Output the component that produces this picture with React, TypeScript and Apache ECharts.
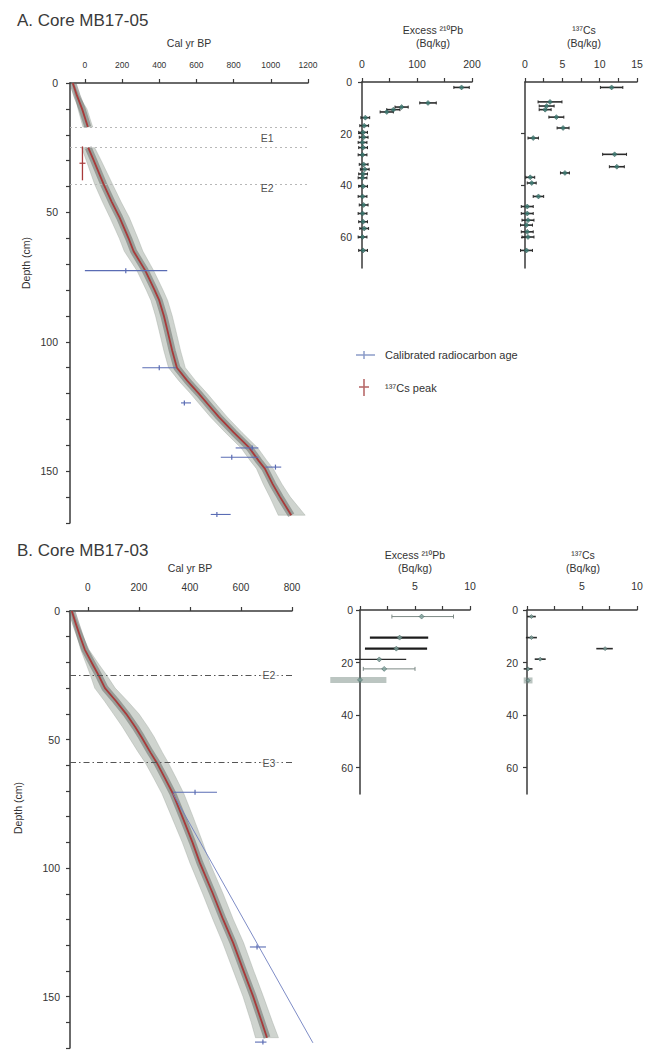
import React, { useEffect, useRef } from "react";
import * as echarts from "echarts";

// ---------------- Panel A : Core MB17-05 ----------------
// age-depth model, upper segment (above event layer E1)
const modelDepthA1 = [0, 5, 10, 17];
const modelMedA1 = [-65, -42, -15, 16];
const modelLoA1 = [-70, -52, -37, -10];
const modelHiA1 = [-60, -32, 11, 42];
// age-depth model, lower segment (below event layer E1)
const modelDepthA2 = [25, 30, 39, 46, 52, 60, 65, 72.5, 80, 84, 90, 95, 103.5, 110, 115, 120, 125, 129, 135, 141, 146, 149, 155, 160, 167];
const modelMedA2 = [18, 48, 100, 145, 187, 235, 262, 325, 375, 400, 425, 442, 470, 495, 550, 613, 672, 720, 800, 885, 935, 968, 1010, 1050, 1110];
const modelLoA2 = [-17, 8, 52, 95, 135, 185, 212, 280, 330, 355, 380, 397, 425, 450, 505, 568, 627, 675, 755, 840, 890, 923, 960, 995, 1040];
const modelHiA2 = [53, 88, 148, 195, 239, 285, 312, 370, 420, 445, 470, 487, 515, 540, 595, 658, 717, 765, 845, 930, 980, 1013, 1060, 1105, 1185];

// calibrated radiocarbon ages
const c14DepthA = [72.5, 110, 123.6, 141, 144.6, 148.4, 166.7];
const c14AgeA = [220, 400, 535, 900, 790, 1025, 710];
const c14LoA = [0, 309, 517, 811, 731, 971, 677];
const c14HiA = [443, 491, 571, 933, 933, 1056, 784];

// 137Cs peak
const csPeakAgeA = [-13];
const csPeakDepthA = [31];
const csPeakTopA = [24.5];
const csPeakBottomA = [37.6];

// event layers
const eventDepthA = [17, 25, 39];
const eventLabelA = ["E1", "E2"];
const eventLabelDepthA = [21.3, 40.5];
const eventLabelAgeA = 980;

// excess 210Pb
const pbDepthA = [2.1, 8.1, 9.7, 10.7, 11.6, 13.8, 16.9, 19.5, 21.4, 23.4, 25.4, 28.2, 31.9, 33.8, 35.6, 37.1, 40.4, 44.3, 47.6, 50.9, 54.1, 56.7, 60, 65.2];
const pbValA = [181, 120, 72, 57, 45, 6, 4, 2, 3, 1, 2, 1, 3, 5, 2, 1, 2, 1, 3, 1, 2, 4, 1, 2];
const pbErrA = [14, 15, 12, 12, 12, 8, 8, 8, 8, 8, 8, 8, 8, 8, 8, 8, 8, 8, 8, 8, 8, 8, 8, 8];

// 137Cs
const csDepthA = [2.1, 7.7, 9.3, 10.7, 13.6, 17.8, 21.7, 28, 32.8, 35.2, 36.9, 39.1, 44.3, 48.2, 50.9, 53.5, 55.4, 58, 60, 65.2];
const csValA = [11.6, 3.35, 2.9, 2.7, 4.2, 5.1, 1.1, 12.0, 12.3, 5.35, 0.7, 0.9, 1.8, 0.3, 0.3, 0.4, 0.2, 0.3, 0.4, 0.2];
const csErrA = [1.5, 1.6, 1.0, 0.8, 1.0, 0.8, 0.7, 1.6, 1.0, 0.6, 0.6, 0.6, 0.7, 0.8, 0.8, 0.8, 0.8, 0.8, 0.8, 0.8];

// ---------------- Panel B : Core MB17-03 ----------------
const modelDepthB = [0, 5, 10, 15, 21, 25, 30, 35, 40, 45, 49, 55, 59, 65, 71, 80, 90, 98, 110, 120, 129, 140, 150, 160, 166];
const modelMedB = [-63, -47, -30, -12, 20, 42, 67, 110, 150, 185, 210, 245, 270, 302, 333, 370, 410, 439, 490, 530, 569, 610, 648, 682, 702];
const modelLoB = [-68, -55, -42, -28, -5, 10, 27, 65, 100, 135, 160, 198, 225, 258, 290, 328, 370, 400, 450, 490, 528, 570, 608, 640, 657];
const modelHiB = [-58, -39, -18, 4, 45, 74, 107, 155, 200, 235, 260, 292, 315, 346, 376, 412, 450, 478, 530, 570, 610, 650, 688, 724, 747];

const c14DepthB = [70.5, 130.7, 167.7];
const c14AgeB = [420, 663, 686];
const c14LoB = [333, 635, 655];
const c14HiB = [506, 698, 700];
const c14TrendDepthB = [71, 168];
const c14TrendAgeB = [333, 882];

const eventDepthB = [25, 59];
const eventLabelB = ["E2", "E3"];
const eventLabelAgeB = 710;

const pbDepthB = [2.5, 10.5, 14.7, 18.8, 22.4, 26.6];
const pbValB = [5.6, 3.6, 3.3, 1.75, 2.2, 0];
const pbLoB = [2.9, 0.9, 0.45, -0.45, 0.3, -2.7];
const pbHiB = [8.5, 6.2, 6.1, 4.2, 5.0, 2.4];
const pbKindB = ["thin", "bold", "bold", "mid", "thin", "shade"];

const csDepthB = [2.5, 10.5, 14.7, 18.7, 22.4, 26.8];
const csValB = [0.4, 0.4, 7.1, 1.2, 0.1, 0.1];
const csLoB = [0.0, -0.1, 6.3, 0.7, -0.3, -0.3];
const csHiB = [0.8, 0.9, 7.8, 1.7, 0.5, 0.5];
const csKindB = ["n", "n", "n", "n", "n", "shade"];

// ---------------- tick values ----------------
const ageTicksA = [0, 200, 400, 600, 800, 1000, 1200];
const ageTicksB = [0, 200, 400, 600, 800];
const depthTicks = [0, 10, 20, 30, 40, 50, 60, 70, 80, 90, 100, 110, 120, 130, 140, 150, 160, 170];
const depthLabels = [0, 50, 100, 150];
const shortDepthLabels = [0, 20, 40, 60];
const pbTicksA = [0, 50, 100, 150, 200];
const pbLabelsA = [0, 100, 200];
const csTicksA = [0, 2.5, 5, 7.5, 10, 12.5, 15];
const csLabelsA = [0, 5, 10, 15];
const smallTicksB = [0, 2.5, 5, 7.5, 10];
const smallLabelsB = [5, 10];

// ---------------- styling ----------------
const FONT = '"Liberation Sans", Arial, "Noto Sans", "DejaVu Sans", sans-serif';
const AXC = "#3a3a3a";
const TXT = "#333";
const RED = "#a83a3a";
const BLUE = "#5a6cb4";
const TEAL = "#3b7e75";

const pairs = (xs: number[], ys: number[]) => xs.map((x, i) => [x, ys[i]]);
const plain = (v: number) => String(v);

function xAxisCfg(grid: number, min: number, max: number, ticks: number[], labels: number[], fontSize: number, margin: number) {
  return {
    type: "value",
    gridIndex: grid,
    position: "top",
    min,
    max,
    axisLine: { show: true, onZero: false, lineStyle: { color: AXC, width: 1.5 } },
    axisTick: { show: true, inside: false, length: 4, customValues: ticks, lineStyle: { color: AXC, width: 1.2 } },
    axisLabel: { show: true, customValues: labels, formatter: plain, fontSize, margin, color: TXT, fontFamily: FONT },
    splitLine: { show: false },
  };
}

function yAxisCfg(grid: number, max: number, ticks: number[], labels: number[] | null, fontSize: number, margin: number) {
  return {
    type: "value",
    gridIndex: grid,
    position: "left",
    inverse: true,
    min: 0,
    max,
    axisLine: { show: true, onZero: false, lineStyle: { color: AXC, width: 1.5 } },
    axisTick: { show: true, inside: false, length: 4, customValues: ticks, lineStyle: { color: AXC, width: 1.2 } },
    axisLabel: labels
      ? { show: true, customValues: labels, formatter: plain, fontSize, margin, color: TXT, fontFamily: FONT }
      : { show: false },
    splitLine: { show: false },
  };
}

function bandSeries(grid: number, depths: number[], lo: number[], hi: number[]) {
  return {
    type: "custom",
    xAxisIndex: grid,
    yAxisIndex: grid,
    silent: true,
    clip: false,
    z: 1,
    data: [[0, 0]],
    renderItem: (_p: any, api: any) => {
      const pts: number[][] = [];
      for (let i = 0; i < depths.length; i++) pts.push(api.coord([lo[i], depths[i]]));
      for (let i = depths.length - 1; i >= 0; i--) pts.push(api.coord([hi[i], depths[i]]));
      return {
        type: "polygon",
        shape: { points: pts },
        style: { fill: "rgba(168,176,168,0.55)", stroke: "rgba(150,160,150,0.6)", lineWidth: 0.6 },
      };
    },
  };
}

function polySeries(grid: number, xs: number[], ys: number[], color: string, width: number, z: number) {
  return {
    type: "custom",
    xAxisIndex: grid,
    yAxisIndex: grid,
    silent: true,
    clip: false,
    z,
    data: [[0, 0]],
    renderItem: (_p: any, api: any) => ({
      type: "polyline",
      shape: { points: xs.map((x, i) => api.coord([x, ys[i]])) },
      style: { stroke: color, lineWidth: width, fill: "none", lineJoin: "round" },
    }),
  };
}

function medianSeries(grid: number, depths: number[], ages: number[]) {
  return [
    polySeries(grid, ages, depths, "rgba(95,100,95,0.5)", 7, 2),
    polySeries(grid, ages, depths, RED, 1.8, 3),
  ];
}

// rows: [center, depth, lo, hi]
function hBarSeries(grid: number, rows: number[][], color: string, width: number, cap: number, centerTick: number, z = 4) {
  return {
    type: "custom",
    xAxisIndex: grid,
    yAxisIndex: grid,
    silent: true,
    clip: false,
    z,
    data: rows,
    renderItem: (_p: any, api: any) => {
      const depth = api.value(1);
      const a = api.coord([api.value(2), depth]);
      const b = api.coord([api.value(3), depth]);
      const c = api.coord([api.value(0), depth]);
      const y = a[1];
      const children: any[] = [
        { type: "line", shape: { x1: a[0], y1: y, x2: b[0], y2: y }, style: { stroke: color, lineWidth: width } },
      ];
      if (cap > 0) {
        children.push({ type: "line", shape: { x1: a[0], y1: y - cap / 2, x2: a[0], y2: y + cap / 2 }, style: { stroke: color, lineWidth: 1 } });
        children.push({ type: "line", shape: { x1: b[0], y1: y - cap / 2, x2: b[0], y2: y + cap / 2 }, style: { stroke: color, lineWidth: 1 } });
      }
      if (centerTick > 0) {
        children.push({ type: "line", shape: { x1: c[0], y1: y - centerTick / 2, x2: c[0], y2: y + centerTick / 2 }, style: { stroke: color, lineWidth: 1.2 } });
      }
      return { type: "group", children };
    },
  };
}

function markerSeries(grid: number, xs: number[], ys: number[], color: string, size: number, symbol = "diamond") {
  return {
    type: "scatter",
    xAxisIndex: grid,
    yAxisIndex: grid,
    data: pairs(xs, ys),
    symbol,
    symbolSize: size,
    silent: true,
    clip: false,
    z: 5,
    itemStyle: { color, borderColor: "#2a4f4a", borderWidth: 0.6 },
  };
}

function eventSeries(grid: number, depths: number[], labels: string[], labelAge: number, labelDepths: number[], lineStyle: any, boxed: boolean) {
  return {
    type: "scatter",
    xAxisIndex: grid,
    yAxisIndex: grid,
    silent: true,
    z: 6,
    symbolSize: 1,
    itemStyle: { color: "rgba(0,0,0,0)" },
    data: labels.map((n, i) => ({ name: n, value: [labelAge, labelDepths[i]] })),
    label: {
      show: true,
      position: "inside",
      formatter: "{b}",
      fontSize: 10.5,
      fontFamily: FONT,
      color: "#222",
      backgroundColor: boxed ? "#fff" : "transparent",
      padding: boxed ? [1, 2] : 0,
    },
    markLine: {
      silent: true,
      symbol: "none",
      label: { show: false },
      lineStyle,
      data: depths.map((d) => ({ yAxis: d })),
    },
  };
}

function splitRows(kinds: string[], kind: string, c: number[], d: number[], lo: number[], hi: number[]) {
  const rows: number[][] = [];
  kinds.forEach((k, i) => {
    if (k === kind) rows.push([c[i], d[i], lo[i], hi[i]]);
  });
  return rows;
}

function buildOption() {
  const c14RowsA = c14DepthA.map((d, i) => [c14AgeA[i], d, c14LoA[i], c14HiA[i]]);
  const c14RowsB = c14DepthB.map((d, i) => [c14AgeB[i], d, c14LoB[i], c14HiB[i]]);
  const pbRowsA = pbDepthA.map((d, i) => [pbValA[i], d, pbValA[i] - pbErrA[i], pbValA[i] + pbErrA[i]]);
  const csRowsA = csDepthA.map((d, i) => [csValA[i], d, csValA[i] - csErrA[i], csValA[i] + csErrA[i]]);

  const series: any[] = [
    // ---- A age-depth ----
    bandSeries(0, modelDepthA1, modelLoA1, modelHiA1),
    bandSeries(0, modelDepthA2, modelLoA2, modelHiA2),
    ...medianSeries(0, modelDepthA1, modelMedA1),
    ...medianSeries(0, modelDepthA2, modelMedA2),
    hBarSeries(0, c14RowsA, BLUE, 1.1, 0, 5),
    {
      type: "custom",
      xAxisIndex: 0,
      yAxisIndex: 0,
      silent: true,
      clip: false,
      z: 6,
      data: csPeakAgeA.map((a, i) => [a, csPeakDepthA[i], csPeakTopA[i], csPeakBottomA[i]]),
      renderItem: (_p: any, api: any) => {
        const t = api.coord([api.value(0), api.value(2)]);
        const b = api.coord([api.value(0), api.value(3)]);
        const c = api.coord([api.value(0), api.value(1)]);
        return {
          type: "group",
          children: [
            { type: "line", shape: { x1: t[0], y1: t[1], x2: b[0], y2: b[1] }, style: { stroke: RED, lineWidth: 1.3 } },
            { type: "line", shape: { x1: c[0] - 3, y1: c[1], x2: c[0] + 3, y2: c[1] }, style: { stroke: RED, lineWidth: 1.2 } },
          ],
        };
      },
    },
    eventSeries(0, eventDepthA, eventLabelA, eventLabelAgeA, eventLabelDepthA, { color: "#b8b8b8", width: 1, type: [2, 3] }, false),

    // ---- A 210Pb ----
    hBarSeries(1, pbRowsA, "#2b2b2b", 1.6, 3, 0),
    markerSeries(1, pbValA, pbDepthA, TEAL, 5),
    // ---- A 137Cs ----
    hBarSeries(2, csRowsA, "#2b2b2b", 1.6, 3, 0),
    markerSeries(2, csValA, csDepthA, TEAL, 5),

    // ---- B age-depth ----
    bandSeries(3, modelDepthB, modelLoB, modelHiB),
    ...medianSeries(3, modelDepthB, modelMedB),
    polySeries(3, c14TrendAgeB, c14TrendDepthB, "#6f7fc0", 0.9, 4),
    hBarSeries(3, c14RowsB, BLUE, 1.1, 0, 5),
    eventSeries(3, eventDepthB, eventLabelB, eventLabelAgeB, eventDepthB, { color: "#555", width: 1, type: [6, 3, 1.5, 3] }, true),

    // ---- B 210Pb ----
    hBarSeries(4, splitRows(pbKindB, "shade", pbValB, pbDepthB, pbLoB, pbHiB), "rgba(120,140,132,0.5)", 6, 0, 0, 3),
    hBarSeries(4, splitRows(pbKindB, "thin", pbValB, pbDepthB, pbLoB, pbHiB), "#7d8a86", 1, 4, 0),
    hBarSeries(4, splitRows(pbKindB, "bold", pbValB, pbDepthB, pbLoB, pbHiB), "#1c1c1c", 2.4, 0, 0),
    hBarSeries(4, splitRows(pbKindB, "mid", pbValB, pbDepthB, pbLoB, pbHiB), "#2a2a2a", 1.4, 0, 0),
    markerSeries(4, pbValB, pbDepthB, "#7fa39c", 5),

    // ---- B 137Cs ----
    hBarSeries(5, splitRows(csKindB, "shade", csValB, csDepthB, csLoB, csHiB), "rgba(120,140,132,0.5)", 6, 0, 0, 3),
    hBarSeries(5, splitRows(csKindB, "n", csValB, csDepthB, csLoB, csHiB), "#2b2b2b", 1.6, 0, 0),
    markerSeries(5, csValB, csDepthB, "#7fa39c", 4),
  ];

  const txt = (text: string, x: number, y: number, fontSize: number, extra: any = {}) => ({
    type: "text",
    x,
    y,
    silent: true,
    style: { text, fontSize, fontFamily: FONT, fill: TXT, align: "center", verticalAlign: "middle", ...extra },
  });

  const graphic: any[] = [
    txt("A. Core MB17-05", 17, 20, 17, { align: "left", fill: "#3a3a3a" }),
    txt("B. Core MB17-03", 17, 550, 17, { align: "left", fill: "#3a3a3a" }),
    txt("Cal yr BP", 189, 43, 10.5),
    txt("Cal yr BP", 190, 568, 10.5),
    { ...txt("Depth (cm)", 26, 263, 10.5), rotation: Math.PI / 2 },
    { ...txt("Depth (cm)", 18, 808, 10.5), rotation: Math.PI / 2 },
    txt("Excess \u00B2\u00B9\u2070Pb", 433, 30, 10.5),
    txt("(Bq/kg)", 433, 43, 10.5),
    txt("\u00B9\u00B3\u2077Cs", 584, 30, 10.5),
    txt("(Bq/kg)", 584, 43, 10.5),
    txt("Excess \u00B2\u00B9\u2070Pb", 415, 555, 10.5),
    txt("(Bq/kg)", 415, 568, 10.5),
    txt("\u00B9\u00B3\u2077Cs", 583, 555, 10.5),
    txt("(Bq/kg)", 583, 568, 10.5),
    // legend
    { type: "line", silent: true, shape: { x1: 356, y1: 355, x2: 375, y2: 355 }, style: { stroke: "#8c9cc8", lineWidth: 1.5 } },
    { type: "line", silent: true, shape: { x1: 364, y1: 351, x2: 364, y2: 359 }, style: { stroke: "#8c9cc8", lineWidth: 1.5 } },
    txt("Calibrated radiocarbon age", 385, 355, 11, { align: "left" }),
    { type: "line", silent: true, shape: { x1: 364, y1: 379, x2: 364, y2: 396 }, style: { stroke: "#b86a6a", lineWidth: 1.6 } },
    { type: "line", silent: true, shape: { x1: 359, y1: 387, x2: 369, y2: 387 }, style: { stroke: "#b86a6a", lineWidth: 1.6 } },
    txt("\u00B9\u00B3\u2077Cs peak", 385, 388, 11, { align: "left" }),
  ];

  return {
    animation: false,
    backgroundColor: "#fff",
    grid: [
      { left: 70, top: 83, width: 238, height: 440, outerBoundsMode: "none" },
      { left: 362, top: 82, width: 110, height: 186, outerBoundsMode: "none" },
      { left: 525, top: 82, width: 112, height: 186, outerBoundsMode: "none" },
      { left: 70, top: 611, width: 222, height: 437, outerBoundsMode: "none" },
      { left: 360, top: 610, width: 110, height: 184, outerBoundsMode: "none" },
      { left: 527, top: 610, width: 110, height: 184, outerBoundsMode: "none" },
    ],
    xAxis: [
      xAxisCfg(0, -80, 1200, ageTicksA, ageTicksA, 8.5, 14),
      xAxisCfg(1, 0, 200, pbTicksA, pbLabelsA, 10.5, 13),
      xAxisCfg(2, 0, 15, csTicksA, csLabelsA, 10.5, 13),
      xAxisCfg(3, -70, 800, ageTicksB, ageTicksB, 10, 19),
      xAxisCfg(4, 0, 10, smallTicksB, smallLabelsB, 10.5, 19),
      xAxisCfg(5, 0, 10, smallTicksB, smallLabelsB, 10.5, 19),
    ],
    yAxis: [
      yAxisCfg(0, 170, depthTicks, depthLabels, 10.5, 12),
      yAxisCfg(1, 72, shortDepthLabels, shortDepthLabels, 10.5, 10),
      yAxisCfg(2, 72, [20, 40, 60], null, 10.5, 10),
      yAxisCfg(3, 170, depthTicks, depthLabels, 10.5, 10),
      yAxisCfg(4, 70, shortDepthLabels, shortDepthLabels, 10.5, 7),
      yAxisCfg(5, 70, shortDepthLabels, shortDepthLabels, 10.5, 9),
    ],
    series,
    graphic,
  };
}

export default function App() {
  const ref = useRef<HTMLDivElement>(null);
  useEffect(() => {
    document.body.style.margin = "0";
    if (!ref.current) return;
    const chart = echarts.init(ref.current, null, { renderer: "svg" });
    chart.setOption(buildOption() as any);
    return () => chart.dispose();
  }, []);
  return <div ref={ref} style={{ width: 648, height: 1052 }} />;
}
